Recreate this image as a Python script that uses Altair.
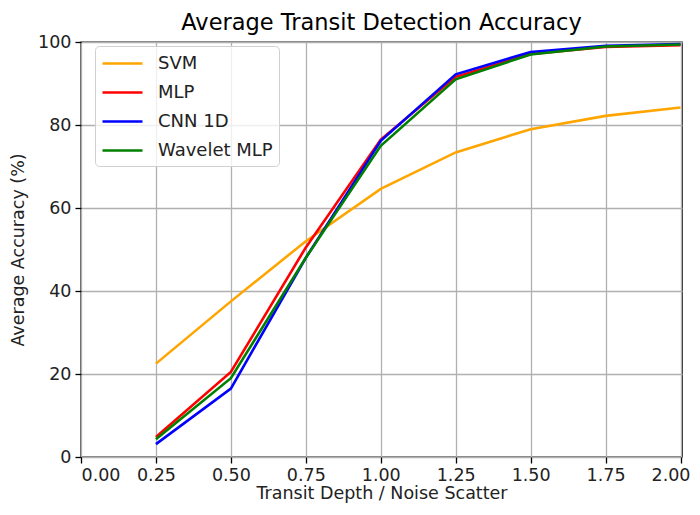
import altair as alt
import pandas as pd

x_vals = [0.25, 0.5, 0.75, 1.0, 1.25, 1.5, 1.75, 2.0]
svm = [22.5, 37.5, 52.0, 64.6, 73.4, 79.0, 82.2, 84.2]
mlp = [4.8, 20.5, 50.5, 76.5, 91.6, 97.1, 98.8, 99.2]
cnn = [3.1, 16.5, 48.0, 76.2, 92.2, 97.6, 99.1, 99.5]
wav = [4.3, 19.0, 48.0, 75.0, 91.0, 97.0, 98.9, 99.4]

series = ["SVM", "MLP", "CNN 1D", "Wavelet MLP"]
colors = ["orange", "red", "blue", "green"]

rows = []
for name, vals in zip(series, [svm, mlp, cnn, wav]):
    for xv, yv in zip(x_vals, vals):
        rows.append({"x": xv, "y": yv, "model": name})
df = pd.DataFrame(rows)

font = "DejaVu Sans"

chart = alt.Chart(df).mark_line(strokeWidth=2.6, clip=True).encode(
    x=alt.X("x:Q", scale=alt.Scale(domain=[0, 2.005], nice=False, zero=False),
            axis=alt.Axis(title="Transit Depth / Noise Scatter",
                          values=[0, 0.25, 0.5, 0.75, 1.0, 1.25, 1.5, 1.75, 2.0],
                          format=".2f", titlePadding=1, labelPadding=3,
                          labelOffset={"condition": {"test": "datum.value >= 2", "value": -10}, "value": 0})),
    y=alt.Y("y:Q", scale=alt.Scale(domain=[0, 100], nice=False),
            axis=alt.Axis(title="Average Accuracy (%)", values=[0, 20, 40, 60, 80, 100],
                          titlePadding=10)),
    color=alt.Color("model:N", scale=alt.Scale(domain=series, range=colors),
                    sort=series,
                    legend=alt.Legend(title=None, orient="none", legendX=14, legendY=4,
                                      symbolType="M-2,0H2", symbolSize=400, symbolStrokeWidth=2.6,
                                      symbolOffset=10,
                                      labelFont=font, labelFontSize=18, labelColor="#222",
                                      rowPadding=8, padding=6, strokeColor="#d0d0d0",
                                      fillColor="rgba(255,255,255,0.8)", cornerRadius=4,
                                      labelOffset=24, offset=0)),
).properties(
    width=601, height=415,
    title=alt.TitleParams("Average Transit Detection Accuracy", font=font, fontSize=22.5,
                          fontWeight="normal", color="black", offset=0, dy=1),
    padding={"left": 73, "top": 34, "right": 10, "bottom": 50},
    autosize=alt.AutoSizeParams(type="none"),
).configure_view(
    stroke="black", strokeWidth=1.4
).configure_axis(
    labelFont=font, titleFont=font, labelFontSize=17.5, titleFontSize=17.5,
    titleFontWeight="normal", labelColor="#222", titleColor="#222",
    grid=True, gridColor="#b0b0b0", gridWidth=1.3,
    domain=False, tickColor="black", tickSize=6, tickWidth=1.3, labelPadding=4,
)

chart.save("out.html", embed_options={"renderer": "svg", "actions": False})
